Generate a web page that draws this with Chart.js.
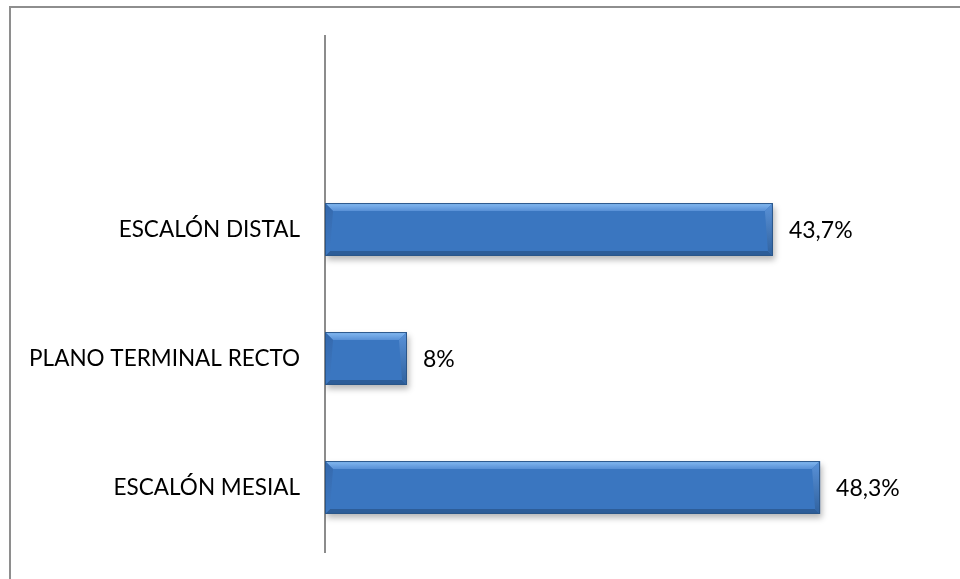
<!DOCTYPE html>
<html>
<head>
<meta charset="utf-8">
<script src="https://cdn.jsdelivr.net/npm/chart.js@4.4.1/dist/chart.umd.min.js"></script>
<style>
    html, body { margin: 0; padding: 0; background: #ffffff; }
    #marco {
        position: absolute; left: 9px; top: 6px; width: 960px; height: 600px;
        border-top: 2px solid #8e8e8e; border-left: 2px solid #8e8e8e;
    }
    #lienzo { position: absolute; left: 0; top: 0; }
</style>
</head>
<body>
<div id="marco"></div>
<canvas id="lienzo" width="960" height="579"></canvas>
<script>
// categorías (la primera queda vacía, como en la hoja original)
const categorias = ['', 'ESCALÓN DISTAL', 'PLANO TERMINAL RECTO', 'ESCALÓN MESIAL'];
const porcentajes = [null, 43.7, 8, 48.3];
const ejeMax = 60;

const fuente = 'Lato, "Open Sans", sans-serif';

// relieve de las barras: franja clara arriba, oscura abajo, esquinas biseladas
const biselBarras = {
    id: 'biselBarras',
    beforeDatasetsDraw(chart) {
        const ctx = chart.ctx;
        ctx.save();
        ctx.shadowColor = 'rgba(0,0,0,0.28)';
        ctx.shadowBlur = 6;
        ctx.shadowOffsetY = 4;
        ctx.shadowOffsetX = 2;
    },
    afterDatasetsDraw(chart) {
        const ctx = chart.ctx;
        ctx.restore();
        const meta = chart.getDatasetMeta(0);
        meta.data.forEach(function(bar, i) {
            if (porcentajes[i] == null) return;
            const x0 = bar.base, x1 = bar.x;
            const y0 = bar.y - bar.height / 2, y1 = bar.y + bar.height / 2;
            const b = 8;
            ctx.save();
            // franja superior clara
            let g = ctx.createLinearGradient(0, y0, 0, y0 + b);
            g.addColorStop(0, '#86bbf2');
            g.addColorStop(1, '#5890d6');
            ctx.fillStyle = g;
            ctx.beginPath();
            ctx.moveTo(x0, y0); ctx.lineTo(x1, y0);
            ctx.lineTo(x1 - b, y0 + b); ctx.lineTo(x0 + b, y0 + b);
            ctx.closePath(); ctx.fill();
            // franja inferior oscura
            ctx.fillStyle = '#2d5d98';
            ctx.beginPath();
            ctx.moveTo(x0, y1); ctx.lineTo(x1, y1);
            ctx.lineTo(x1 - 5, y1 - 5); ctx.lineTo(x0 + 5, y1 - 5);
            ctx.closePath(); ctx.fill();
            // lado derecho
            g = ctx.createLinearGradient(0, y0, 0, y1);
            g.addColorStop(0, '#5a92d8');
            g.addColorStop(1, '#30629f');
            ctx.fillStyle = g;
            ctx.beginPath();
            ctx.moveTo(x1, y0); ctx.lineTo(x1, y1);
            ctx.lineTo(x1 - 5, y1 - 5); ctx.lineTo(x1 - b, y0 + b);
            ctx.closePath(); ctx.fill();
            // lado izquierdo
            g = ctx.createLinearGradient(0, y0, 0, y1);
            g.addColorStop(0, '#3569ad');
            g.addColorStop(1, '#3d79c3');
            ctx.fillStyle = g;
            ctx.beginPath();
            ctx.moveTo(x0, y0); ctx.lineTo(x0 + b, y0 + b);
            ctx.lineTo(x0 + 5, y1 - 5); ctx.lineTo(x0, y1);
            ctx.closePath(); ctx.fill();
            // contorno
            ctx.strokeStyle = '#2b5689';
            ctx.lineWidth = 1;
            ctx.strokeRect(x0 + 0.5, y0 + 0.5, x1 - x0 - 1, y1 - y0 - 1);
            ctx.restore();
        });
    }
};

// etiquetas de valor a la derecha de cada barra
const etiquetasValor = {
    id: 'etiquetasValor',
    afterDatasetsDraw(chart) {
        const ctx = chart.ctx;
        const meta = chart.getDatasetMeta(0);
        ctx.save();
        ctx.font = '23px ' + fuente;
        ctx.fillStyle = '#000000';
        ctx.textBaseline = 'middle';
        ctx.textAlign = 'left';
        meta.data.forEach(function(bar, i) {
            const v = porcentajes[i];
            if (v == null) return;
            ctx.fillText(String(v).replace('.', ',') + '%', bar.x + 16, bar.y + 1);
        });
        ctx.restore();
    }
};

const grafico = new Chart(document.getElementById('lienzo').getContext('2d'), {
    type: 'bar',
    data: {
        labels: categorias,
        datasets: [{
            data: porcentajes,
            backgroundColor: function(c) {
                const area = c.chart.chartArea;
                const el = c.element;
                if (!area || !el || el.height == null) return '#3a76c0';
                const y0 = el.y - el.height / 2;
                const g = c.chart.ctx.createLinearGradient(0, y0, 0, y0 + el.height);
                g.addColorStop(0, '#4a86d0');
                g.addColorStop(0.5, '#3b77c1');
                g.addColorStop(1, '#3468ad');
                return g;
            },
            borderWidth: 0,
            categoryPercentage: 1,
            barPercentage: 0.41
        }]
    },
    options: {
        indexAxis: 'y',
        responsive: false,
        animation: false,
        layout: { padding: { top: 36, bottom: 27, right: 20, left: 0 } },
        plugins: {
            legend: { display: false },
            tooltip: { enabled: false }
        },
        scales: {
            x: {
                display: false,
                min: 0,
                max: ejeMax
            },
            y: {
                grid: { display: false, drawTicks: false },
                border: { display: true, color: '#8c8c8c', width: 2 },
                ticks: {
                    color: '#000000',
                    padding: 25,
                    font: { family: fuente, size: 22.5 }
                },
                afterFit: function(scale) {
                    scale.width = 325;
                    // el padding de las etiquetas no debe recortar el área vertical
                    scale.paddingTop = 0;
                    scale.paddingBottom = 0;
                }
            }
        }
    },
    plugins: [biselBarras, etiquetasValor]
});
</script>
</body>
</html>
